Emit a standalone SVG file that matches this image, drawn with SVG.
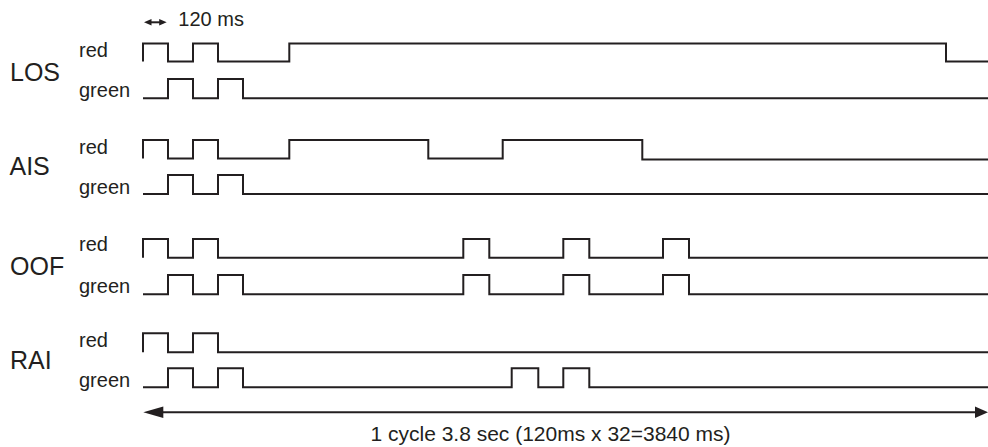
<svg xmlns="http://www.w3.org/2000/svg" width="988" height="447" viewBox="0 0 988 447">
  <style>
    .wave { fill: none; stroke: #231f20; stroke-width: 2; stroke-linejoin: miter; }
    .line { fill: none; stroke: #231f20; stroke-width: 2; }
    .head { fill: #231f20; stroke: none; }
    .name { font-family: "Liberation Sans", Arial, sans-serif; font-size: 25px; fill: #231f20; }
    .sig { font-family: "Liberation Sans", Arial, sans-serif; font-size: 20px; fill: #231f20; }
    .note { font-family: "Liberation Sans", Arial, sans-serif; font-size: 20px; fill: #231f20; }
  </style>
  <rect width="988" height="447" fill="#ffffff"/>

  <g id="LOS">
    <text class="name" x="10" y="81">LOS</text>
    <text class="sig" x="79" y="57">red</text>
    <text class="sig" x="79" y="97">green</text>
    <path class="wave" d="M143,61.5 V43.5 H168 V61.5 H193 V43.5 H218 V61.5 H289.3 V43.5 H946 V61.5 H988"/>
    <path class="wave" d="M143,98.3 H168 V79 H193 V98.3 H218 V79 H243 V98.3 H988"/>
  </g>

  <g id="AIS">
    <text class="name" x="9.5" y="175">AIS</text>
    <text class="sig" x="79" y="153.5">red</text>
    <text class="sig" x="79" y="194">green</text>
    <path class="wave" d="M143,158.5 V140 H168 V158.5 H193 V140 H218 V158.5 H289.3 V140 H428.3 V158.5 H502.7 V140 H642.3 V159.5 H988"/>
    <path class="wave" d="M143,194 H168 V175 H193 V194 H218 V175 H243 V194 H988"/>
  </g>

  <g id="OOF">
    <text class="name" x="10" y="275">OOF</text>
    <text class="sig" x="79" y="251">red</text>
    <text class="sig" x="79" y="293">green</text>
    <path class="wave" d="M143,257.7 V239 H168 V257.7 H193 V239 H218 V257.7 H463.3 V239 H489.3 V257.7 H563.3 V239 H589.3 V257.7 H663 V239 H689 V257.7 H988"/>
    <path class="wave" d="M143,294.3 H168 V275 H193 V294.3 H218 V275 H243 V294.3 H463.3 V275 H489.3 V294.3 H563.3 V275 H589.3 V294.3 H663 V275 H689 V294.3 H988"/>
  </g>

  <g id="RAI">
    <text class="name" x="10" y="369">RAI</text>
    <text class="sig" x="79" y="346.5">red</text>
    <text class="sig" x="79" y="386.5">green</text>
    <path class="wave" d="M143,352.3 V333.3 H168 V352.3 H193 V333.3 H218 V352.3 H988"/>
    <path class="wave" d="M143,387.3 H168 V368.3 H193 V387.3 H218 V368.3 H243 V387.3 H511.7 V368.3 H538.3 V387.3 H563.3 V368.3 H589.3 V387.3 H988"/>
  </g>

  <g id="connectors">
    <g id="period-arrow">
      <line class="line" x1="150" y1="22.3" x2="160" y2="22.3"/>
      <polygon class="head" points="144,22.3 151.5,19 151.5,25.6"/>
      <polygon class="head" points="166.7,22.3 159.2,19 159.2,25.6"/>
      <text class="note" x="178.3" y="26">120 ms</text>
    </g>
    <g id="cycle-arrow">
      <line class="line" x1="160" y1="412.2" x2="978" y2="412.2"/>
      <polygon class="head" points="143.3,412.2 163.3,406.5 163.3,418"/>
      <polygon class="head" points="988,412.2 975,406.5 975,418"/>
      <text class="note" x="550.5" y="440.5" text-anchor="middle" font-size="21" style="font-size:21px">1 cycle 3.8 sec (120ms x 32=3840 ms)</text>
    </g>
  </g>
</svg>
